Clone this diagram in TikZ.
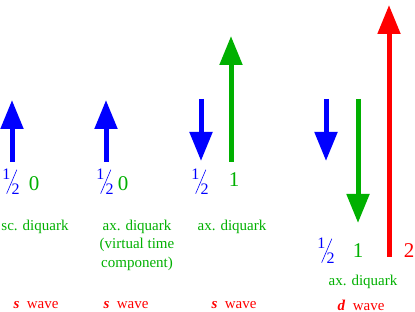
\documentclass[tikz,border=0pt]{standalone}
\usepackage{fontspec}
\usepackage{graphicx}
\setmainfont{Liberation Serif}
\usetikzlibrary{arrows.meta}
\definecolor{qgreen}{RGB}{0,176,0}
\newcommand{\spinhalf}{{\fontsize{16}{16}\selectfont\raisebox{15pt}{1}\kern-4pt\raisebox{1pt}{\rotatebox{67}{\rule{26pt}{0.6pt}}}\kern-5.5pt 2}}

\begin{document}
\begin{tikzpicture}[x=1pt, y=-1pt,
    spin/.style={line width=5pt, -{Triangle[width=22pt, length=29pt]}},
    lbl/.style={font=\fontsize{15}{18.5}\selectfont, text=qgreen, align=center, inner sep=0pt},
    num/.style={font=\fontsize{21}{21}\selectfont, inner sep=0pt},
    wave/.style={font=\fontsize{15}{18}\selectfont, text=red, inner sep=0pt}]
    \useasboundingbox (0,0) rectangle (415,312);
    % arrow ends
    \coordinate (a1) at (12,162);  \coordinate (b1) at (12,100);
    \coordinate (a2) at (106,162); \coordinate (b2) at (106,100);
    \coordinate (a3) at (201,99);  \coordinate (b3) at (201,161);
    \coordinate (c3) at (231,162); \coordinate (d3) at (231,36);
    \coordinate (a4) at (326,99);  \coordinate (b4) at (326,161);
    \coordinate (c4) at (358,99);  \coordinate (d4) at (358,223);
    \coordinate (e4) at (389,257); \coordinate (f4) at (389,5);
    \draw[spin, blue] (a1) -- (b1);
    \draw[spin, blue] (a2) -- (b2);
    \draw[spin, blue] (a3) -- (b3);
    \draw[spin, qgreen] (c3) -- (d3);
    \draw[spin, blue] (a4) -- (b4);
    \draw[spin, qgreen] (c4) -- (d4);
    \draw[spin, red] (e4) -- (f4);
    % spins
    \foreach \x/\y [count=\i] in {11/182,105/182,200/182,326/251} {
        \node[text=blue, inner sep=0pt] (h\i) at (\x,\y) {\spinhalf};
    }
    \node[num, text=qgreen] (s1) at (34,184) {0};
    \node[num, text=qgreen] (s2) at (123,184) {0};
    \node[num, text=qgreen] (s3) at (234,180) {1};
    \node[num, text=qgreen] (s4) at (358,251) {1};
    \node[num, text=red] (s5) at (409,251) {2};
    % diquarks
    \node[lbl] (q1) at (35,227) {sc. diquark};
    \node[lbl] (q2) at (137,245) {ax. diquark\\(virtual time\\component)};
    \node[lbl] (q3) at (232,227) {ax. diquark};
    \node[lbl] (q4) at (363,282) {ax. diquark};
    \foreach \x/\l [count=\i] in {36/s,126/s,234/s,361/d} {
        \node[wave] (w\i) at (\x,305) {\textbf{\textit{\l}}\ \ wave};
    }
\end{tikzpicture}
\end{document}
